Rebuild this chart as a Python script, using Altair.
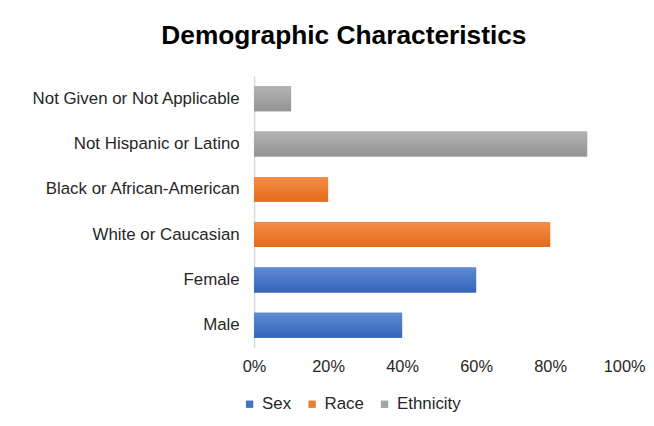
import altair as alt
import pandas as pd

categories = ["Not Given or Not Applicable", "Not Hispanic or Latino",
              "Black or African-American", "White or Caucasian", "Female", "Male"]
values = [0.10, 0.90, 0.20, 0.80, 0.60, 0.40]
groups = ["Ethnicity", "Ethnicity", "Race", "Race", "Sex", "Sex"]
legend_order = ["Sex", "Race", "Ethnicity"]
colors = ["#4472c4", "#ed7d31", "#a5a5a5"]
grad_top = ["#5e8ad6", "#f58c48", "#b3b3b3"]
grad_bot = ["#3764b8", "#e36c1e", "#939393"]

df = pd.DataFrame({"category": categories, "value": values, "group": groups})

FONT = "Liberation Sans"
TXT = "#262626"

x_enc = alt.X("value:Q", scale=alt.Scale(domain=[0, 1]),
              axis=alt.Axis(format=".0%", values=[0, 0.2, 0.4, 0.6, 0.8, 1.0],
                            title=None, grid=False, domain=False, ticks=False,
                            labelFontSize=16.5, labelColor=TXT, labelPadding=11,
                            labelFont=FONT, labelFlush=False, labelBound=False,
                            labelOverlap=False))
y_enc = alt.Y("category:N", sort=categories,
              scale=alt.Scale(paddingInner=0.45, paddingOuter=0.225),
              axis=alt.Axis(title=None, ticks=False, domainColor="#d9d9d9",
                            domainWidth=1.5, labelFontSize=17, labelColor=TXT,
                            labelPadding=15, labelFont=FONT, labelLimit=400))

base = alt.Chart(df)

legend_layer = base.mark_bar().encode(
    x=x_enc, y=y_enc,
    color=alt.Color("group:N", sort=legend_order,
                    scale=alt.Scale(domain=legend_order, range=colors),
                    legend=alt.Legend(title=None, orient="none", direction="horizontal",
                                      legendX=-13, legendY=322,
                                      symbolType="square", symbolSize=55,
                                      symbolStrokeWidth=0, labelFontSize=17,
                                      labelColor=TXT, labelFont=FONT,
                                      columnPadding=12, labelOffset=4)),
)

layers = [legend_layer]
for g, top, bot in zip(legend_order, grad_top, grad_bot):
    layers.append(
        base.transform_filter(alt.datum.group == g).mark_bar(
            color=alt.Gradient(gradient="linear",
                               stops=[alt.GradientStop(color=top, offset=0),
                                      alt.GradientStop(color=bot, offset=1)],
                               x1=0, x2=0, y1=0, y2=1)
        ).encode(x=x_enc, y=y_enc)
    )

chart = alt.layer(*layers).properties(
    width=373, height=274,
    background="white",
    padding={"left": 23, "top": 13, "right": 0, "bottom": 0},
    title=alt.TitleParams("Demographic Characteristics", fontSize=26.5, fontWeight="bold",
                          font=FONT, color="#000000", anchor="middle", frame="group",
                          offset=27, dx=-96),
).configure_view(stroke=None)

chart.save("out.html", embed_options={"renderer": "svg", "actions": False})
